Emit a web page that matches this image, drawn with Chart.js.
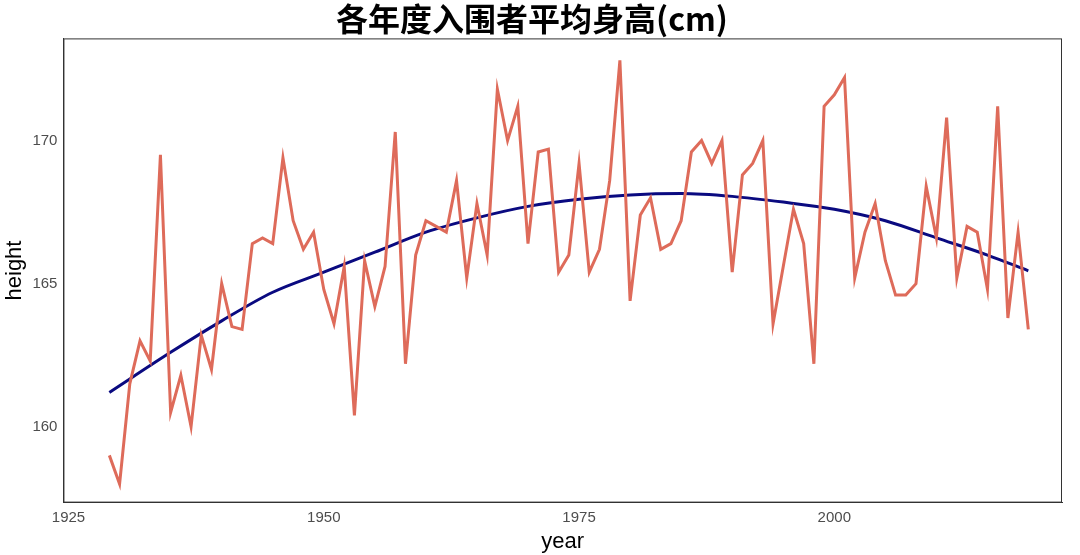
<!DOCTYPE html>
<html><head><meta charset="utf-8">
<script src="https://cdn.jsdelivr.net/npm/chart.js@4"></script>
<style>html,body{margin:0;background:#fff}</style>
</head><body><canvas id="c" width="1080" height="555"></canvas>
<script>
const years = [];
for (let y = 1929; y <= 2019; y++) years.push(y);
const heights = [159.0,158.0,161.5,163.0,162.3,169.5,160.5,161.8,160.0,163.2,162.0,165.0,163.5,163.4,166.4,166.6,166.4,169.4,167.2,166.2,166.8,164.8,163.6,165.6,160.4,165.8,164.2,165.6,170.3,162.2,166.0,167.2,167.0,166.8,168.6,165.2,167.8,166.0,171.8,170.0,171.2,166.4,169.6,169.7,165.4,166.0,169.2,165.4,166.2,168.6,172.8,164.4,167.4,168.0,166.2,166.4,167.2,169.6,170.0,169.2,170.0,165.4,168.8,169.2,170.0,163.6,165.6,167.6,166.4,162.2,171.2,171.6,172.2,165.2,166.8,167.8,165.8,164.6,164.6,165.0,168.4,166.6,170.8,165.2,167.0,166.8,164.8,171.2,163.8,166.8,163.4];
const trendYears = [1929,1935,1940,1945,1950,1955,1960,1965,1970,1975,1980,1985,1990,1995,2000,2005,2010,2015,2019];
const trendValues = [161.2,162.6,163.7,164.7,165.4,166.1,166.8,167.3,167.7,167.95,168.1,168.15,168.05,167.85,167.6,167.2,166.6,166.0,165.45];
const xTicks = [1925,1950,1975,2000];
const yTicks = [160,165,170];

const frame = {id:'frame', afterDraw(ch){const a=ch.chartArea,c=ch.ctx;c.save();c.strokeStyle='#333';c.lineWidth=1;c.strokeRect(a.left+0.5,a.top+0.5,a.right-a.left-1,a.bottom-a.top-1);c.restore();}};
new Chart(document.getElementById('c'), {
  type:'line',
  data:{datasets:[
    {data:years.map((y,i)=>({x:y,y:heights[i]})),borderColor:'#de6b5a',borderWidth:3,pointRadius:0,tension:0},
    {data:trendYears.map((y,i)=>({x:y,y:trendValues[i]})),borderColor:'#0a0a80',borderWidth:3,pointRadius:0,cubicInterpolationMode:'monotone'}
  ]},
  options:{responsive:false,animation:false,devicePixelRatio:1,
    layout:{padding:{left:2,right:18,top:0,bottom:0}},
    plugins:{legend:{display:false},tooltip:{enabled:false},
      title:{display:true,text:'各年度入围者平均身高(cm)',color:'#000',font:{size:32,weight:'bold',family:'"Noto Sans CJK SC", "Liberation Sans", sans-serif'},padding:{top:0,bottom:0}}},
    scales:{
      x:{type:'linear',min:1924.5,max:2022.3,grid:{display:false,drawTicks:true,tickLength:4,tickColor:'#333'},border:{color:'#333'},
        afterBuildTicks(s){s.ticks=xTicks.map(v=>({value:v}));},
        ticks:{color:'#4d4d4d',font:{size:15,family:'"Liberation Sans", Arial'},padding:2,maxRotation:0,callback:v=>String(v)},
        title:{display:true,text:'year',color:'#000',font:{size:22,family:'"Liberation Sans", Arial'},padding:{top:0,bottom:0}}},
      y:{min:157.35,max:173.57,grid:{display:false,tickLength:4,tickColor:'#333'},border:{color:'#333'},
        afterBuildTicks(s){s.ticks=yTicks.map(v=>({value:v}));},
        ticks:{color:'#4d4d4d',font:{size:15,family:'"Liberation Sans", Arial'},padding:2,callback:v=>String(v)},
        title:{display:true,text:'height',color:'#000',font:{size:22,family:'"Liberation Sans", Arial'},padding:{top:0,bottom:2}}}
    }},
  plugins:[frame]
});
</script></body></html>
